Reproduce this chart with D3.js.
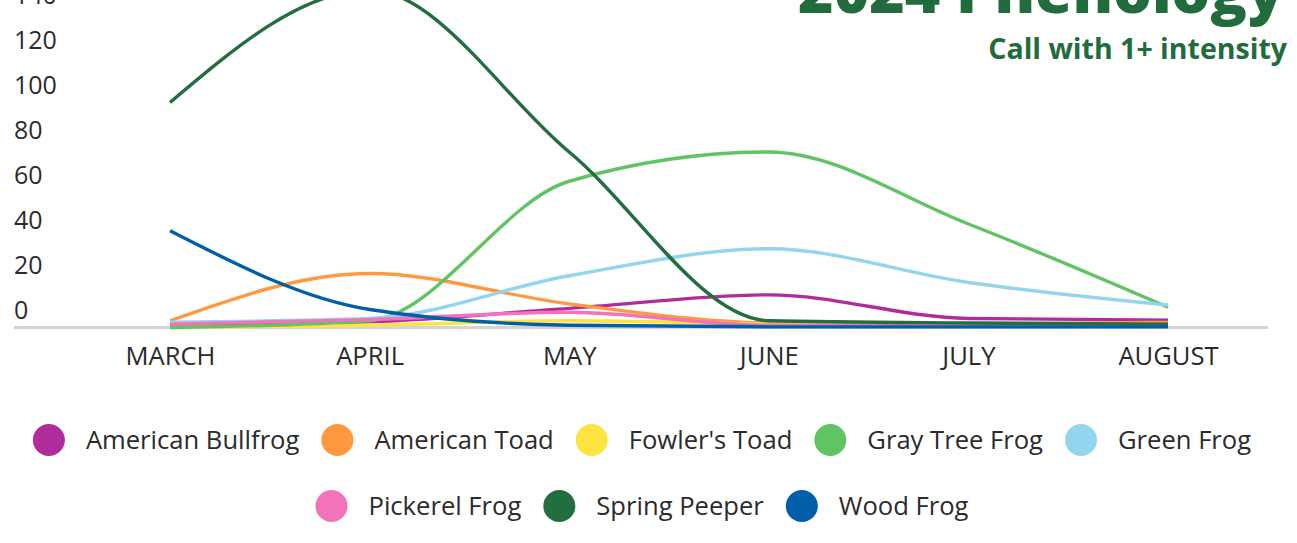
<!DOCTYPE html>
<html>
<head>
<meta charset="utf-8">
<script src="https://cdn.jsdelivr.net/npm/d3@7"></script>
<style>
  html, body { margin: 0; padding: 0; background: #fff; }
  svg { display: block; font-family: "Open Sans", sans-serif; }
</style>
</head>
<body>
<div id="chart"></div>
<script>
  /* ::::: DATAS ::::: */
  let months = ["MARCH", "APRIL", "MAY", "JUNE", "JULY", "AUGUST"]
  let yTicks = [0, 20, 40, 60, 80, 100, 120, 140]

  let speciesNames = ["American Bullfrog", "American Toad", "Fowler's Toad", "Gray Tree Frog",
    "Green Frog", "Pickerel Frog", "Spring Peeper", "Wood Frog"]
  let speciesColors = ["#b02c9b", "#ff9940", "#fde43f", "#60c465",
    "#93d4ee", "#f273b9", "#226e3e", "#005fa8"]

  let americanBullfrog = [1, 2.5, 8.5, 14.5, 4, 3.3]
  let americanToad = [3, 24, 10.5, 2, 1.5, 2.3]
  let fowlersToad = [0, 1, 3, 1.5, 1, 1]
  let grayTreeFrog = [0, 3, 65, 78, 46, 9]
  let greenFrog = [2.4, 4, 23, 35, 20, 10]
  let pickerelFrog = [1.5, 3.5, 6.8, 1, 1, 1]
  let springPeeper = [100, 150, 78, 3, 2, 1.5]
  let woodFrog = [43, 8, 1, 0.3, 0.3, 0.3]

  let seriesValues = [americanBullfrog, americanToad, fowlersToad, grayTreeFrog,
    greenFrog, pickerelFrog, springPeeper, woodFrog]

  /* ::::: CONSTANTS ::::: */
  let w = 1297
  let h = 543
  let textColor = "#2b2b2b"
  let titleColor = "#226b3c"
  let labelSize = "25.6px"

  let svg = d3.select("#chart").append("svg")
      .attr("width", w)
      .attr("height", h)

  let x = d3.scalePoint().domain(months).range([170, 1168])
  let y = d3.scaleLinear().domain([0, 140]).range([327.5, 12.5])

  /* ::::: baseline + y labels ::::: */
  svg.append("line")
      .attr("x1", 14).attr("x2", 1268)
      .attr("y1", y(0)).attr("y2", y(0))
      .attr("stroke", "#d3d3d3")
      .attr("stroke-width", 3)

  let yAxis = d3.axisLeft(y).tickValues(yTicks).tickSize(0).tickPadding(0)
  let gy = svg.append("g").attr("transform", "translate(14,0)").call(yAxis)
  gy.select(".domain").remove()
  gy.selectAll("text")
      .attr("text-anchor", "start")
      .attr("x", 0)
      .attr("dy", "-0.38em")
      .attr("font-size", "25px")
      .attr("font-family", "Open Sans")
      .attr("fill", textColor)

  /* ::::: x labels ::::: */
  let xAxis = d3.axisBottom(x).tickSize(0).tickPadding(0)
  let gx = svg.append("g").attr("transform", "translate(0,346)").call(xAxis)
  gx.select(".domain").remove()
  gx.selectAll("text")
      .attr("dy", "0.76em")
      .attr("font-size", labelSize)
      .attr("font-family", "Open Sans")
      .attr("fill", textColor)

  /* ::::: lines ::::: */
  let line = d3.line()
      .x(function (d, i) { return x(months[i]) })
      .y(function (d) { return y(d) })
      .curve(d3.curveMonotoneX)

  svg.selectAll("path.serie")
      .data(seriesValues)
      .enter()
      .append("path")
      .attr("class", "serie")
      .attr("d", function (d) { return line(d) })
      .attr("fill", "none")
      .attr("stroke", function (d, i) { return speciesColors[i] })
      .attr("stroke-width", 3.4)

  /* ::::: title ::::: */
  function fitText(sel, targetWidth) {
    let fs = parseFloat(sel.attr("font-size"))
    let len = sel.node().getComputedTextLength()
    sel.attr("font-size", (fs * targetWidth / len) + "px")
  }

  let title = svg.append("text")
      .text("2024 Phenology")
      .attr("x", 1284).attr("y", 13)
      .attr("text-anchor", "end")
      .attr("font-size", "54px")
      .attr("font-weight", 800)
      .attr("fill", titleColor)
  fitText(title, 486)

  let subtitle = svg.append("text")
      .text("Call with 1+ intensity")
      .attr("x", 1287).attr("y", 59)
      .attr("text-anchor", "end")
      .attr("font-size", "24px")
      .attr("font-weight", 700)
      .attr("fill", titleColor)
  fitText(subtitle, 299)

  /* ::::: legend ::::: */
  let rows = [[0, 1, 2, 3, 4], [5, 6, 7]]
  let rowY = [440, 506]
  let r = 16
  let textGap = 21
  let itemGap = 22
  let legendCenter = 642

  rows.forEach(function (row, ri) {
    let g = svg.append("g")
    let cursor = 0
    row.forEach(function (idx, k) {
      g.append("circle")
          .attr("cx", cursor + r)
          .attr("cy", rowY[ri])
          .attr("r", r)
          .attr("fill", speciesColors[idx])
      let t = g.append("text")
          .text(speciesNames[idx])
          .attr("x", cursor + 2 * r + textGap)
          .attr("y", rowY[ri])
          .attr("dy", "0.35em")
          .attr("font-size", labelSize)
          .attr("fill", textColor)
      cursor += 2 * r + textGap + t.node().getComputedTextLength() + itemGap
    })
    let total = cursor - itemGap
    g.attr("transform", "translate(" + (legendCenter - total / 2) + ",0)")
  })
</script>
</body>
</html>
